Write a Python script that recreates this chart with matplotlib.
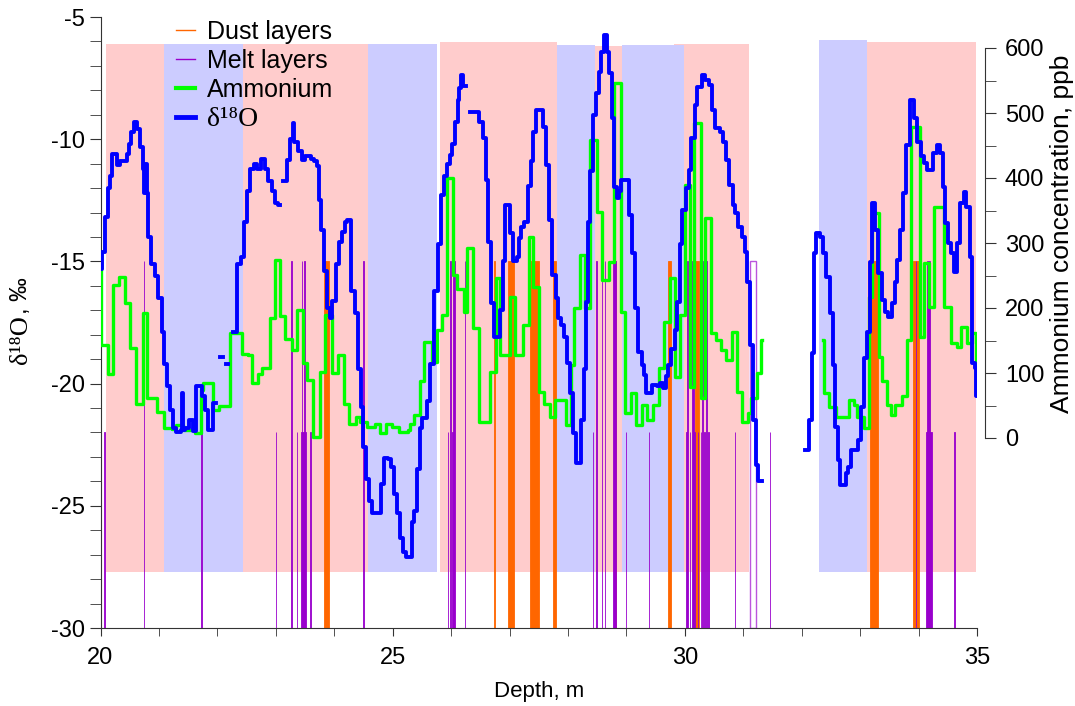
import numpy as np
import matplotlib
matplotlib.use("Agg")
import matplotlib.pyplot as plt
from matplotlib.lines import Line2D

# ---------------- data ----------------
d18o_depth = [20.00, 20.03, 20.07, 20.12, 20.16, 20.20, 20.28, 20.34, 20.46, 20.49, 20.53, 20.57, 20.63, 20.68,
              20.73, 20.75, 20.77, 20.79, 20.81, 20.87, 20.93, 20.99, 21.05, 21.09, 21.13, 21.19, 21.24, 21.30,
              21.37, 21.39, 21.41, 21.45, 21.52, 21.58, 21.64, 21.73, 21.78, 21.84, 21.92, 21.97, 22.04, 22.09,
              22.14, 22.19, 22.27, 22.34, 22.41, 22.45, 22.50, 22.56, 22.62, 22.68, 22.74, 22.82, 22.87, 22.93,
              22.99, 23.03, 23.07, 23.12, 23.19, 23.245, 23.29, 23.32, 23.38, 23.44, 23.50, 23.60, 23.66, 23.70,
              23.74, 23.78, 23.82, 23.87, 23.92, 23.97, 24.03, 24.09, 24.13, 24.18, 24.22, 24.28, 24.35, 24.40,
              24.45, 24.50, 24.55, 24.60, 24.65, 24.80, 24.85, 24.92, 24.97, 25.02, 25.08, 25.12, 25.17, 25.22,
              25.33, 25.37, 25.41, 25.46, 25.51, 25.58, 25.64, 25.70, 25.77, 25.82, 25.87, 25.93, 25.98, 26.02,
              26.07, 26.12, 26.14, 26.17, 26.21, 26.26, 26.32, 26.48, 26.54, 26.59, 26.64, 26.69, 26.73, 26.84,
              26.88, 26.92, 27.00, 27.06, 27.12, 27.16, 27.20, 27.25, 27.31, 27.37, 27.41, 27.46, 27.57, 27.63,
              27.68, 27.73, 27.79, 27.83, 27.88, 27.93, 27.98, 28.03, 28.08, 28.13, 28.22, 28.27, 28.31, 28.35,
              28.38, 28.43, 28.48, 28.53, 28.57, 28.62, 28.67, 28.71, 28.76, 28.79, 28.84, 28.88, 28.91, 29.04,
              29.10, 29.14, 29.20, 29.26, 29.30, 29.34, 29.43, 29.52, 29.57, 29.63, 29.67, 29.71, 29.77, 29.83,
              29.87, 29.91, 29.96, 30.02, 30.07, 30.11, 30.17, 30.21, 30.30, 30.35, 30.41, 30.46, 30.51, 30.60,
              30.66, 30.71, 30.76, 30.82, 30.86, 30.91, 30.97, 31.03, 31.07, 31.12, 31.17, 31.21, 31.25, 31.32,
              32.06, 32.12, 32.17, 32.21, 32.25, 32.32, 32.37, 32.42, 32.48, 32.53, 32.57, 32.62, 32.66, 32.75,
              32.80, 32.85, 32.97, 33.01, 33.06, 33.11, 33.17, 33.21, 33.26, 33.31, 33.37, 33.42, 33.48, 33.54,
              33.59, 33.63, 33.69, 33.74, 33.79, 33.85, 33.92, 33.97, 34.05, 34.09, 34.14, 34.25, 34.31, 34.36,
              34.41, 34.46, 34.51, 34.55, 34.60, 34.65, 34.71, 34.78, 34.82, 34.88, 34.92, 34.97, 34.985, 35.00]
d18o = [-15.3, -14.6, -13.2, -12.0, -11.5, -10.6, -11.05, -10.9, -10.6, -10.2, -9.7, -9.3, -9.6, -10.3,
        -11.2, -12.2, -11.0, -12.2, -14.0, -15.1, -15.6, -16.5, -17.9, -19.2, -20.1, -21.1, -21.8, -22.0,
        -21.9, -20.4, -21.9, -21.8, -21.5, -21.95, -20.1, -20.5, -21.1, -21.9, -20.8, np.nan, -18.9, np.nan,
        -19.2, np.nan, -17.9, -15.1, -14.8, -13.4, -12.1, -11.2, -11.0, -11.2, -10.8, -11.2, -11.7, -12.1,
        -12.6, -12.7, np.nan, -11.7, -10.85, -10.0, -9.35, -10.1, -10.5, -10.85, -10.7, -10.8, -10.9, -11.1,
        -12.5, -13.7, -15.4, -16.9, -17.3, -16.6, -15.1, -14.2, -13.8, -13.4, -13.3, -16.2, -17.1, -19.4,
        -20.95, -22.6, -23.9, -24.8, -25.3, -24.1, -23.05, -23.1, -23.4, -24.5, -25.3, -26.3, -26.9, -27.1,
        -25.65, -25.2, -23.5, -21.8, -21.4, -20.7, -19.2, -16.2, -14.3, -12.3, -11.5, -11.0, -10.65, -10.2,
        -9.3, -8.4, -7.9, -7.37, -7.82, np.nan, -8.87, -9.28, -9.96, -11.67, -14.2, -16.7, -18.08, -16.99,
        -15.0, -12.7, -13.85, -15.0, -14.8, -14.05, -13.6, -13.4, -11.9, -10.9, -9.7, -8.8, -9.49, -11.06,
        -13.3, -15.56, -16.5, -17.3, -17.6, -18.08, -19.17, -20.4, -22.03, -23.26, -21.5, -19.4, -16.65, -13.37,
        -11.3, -9.0, -8.1, -7.24, -6.42, -5.74, -6.42, -7.3, -9.15, -11.94, -12.42, -12.1, -11.67, -13.1,
        -14.67, -16.92, -18.69, -19.24, -19.65, -20.4, -20.06, -20.1, -19.99, -20.2, -19.7, -19.24, -18.6, -17.8,
        -16.65, -14.3, -12.9, -12.0, -11.26, -9.96, -8.6, -7.85, -7.37, -7.58, -7.78, -8.8, -9.55, -9.69,
        -10.1, -10.85, -11.87, -12.69, -13.03, -13.58, -13.99, -14.6, -15.83, -18.42, -21.49, -23.33, -24.0, np.nan,
        -22.72, -21.49, -18.76, -14.67, -13.85, -14.0, -14.67, -15.63, -17.1, -19.24, -21.76, -23.12, -24.15, -23.67,
        -23.4, -22.72, -22.3, -20.94, -18.96, -17.87, -15.01, -12.62, -13.7, -15.49, -16.58, -17.06, -17.26, -16.71,
        -15.83, -14.94, -13.7, -12.2, -10.24, -8.4, -9.15, -10.1, -10.7, -10.99, -11.26, -10.58, -10.24, -10.58,
        -11.94, -13.44, -14.26, -14.67, -15.42, -14.26, -12.62, -12.15, -12.76, -14.8, -19.17, -19.37, -20.5, -20.5]

amm_depth = [20.00, 20.01, 20.12, 20.22, 20.32, 20.42, 20.50, 20.60, 20.72, 20.79, 20.96, 21.08, 21.22, 21.30,
             21.42, 21.62, 21.72, 21.76, 21.93, 22.02, 22.22, 22.42, 22.52, 22.59, 22.70, 22.76, 22.90, 22.99,
             23.07, 23.16, 23.27, 23.36, 23.46, 23.53, 23.645, 23.76, 23.84, 23.96, 24.07, 24.16, 24.26, 24.38,
             24.44, 24.56, 24.70, 24.79, 24.89, 24.99, 25.10, 25.27, 25.30, 25.36, 25.46, 25.54, 25.67, 25.76,
             25.84, 25.93, 26.03, 26.10, 26.22, 26.28, 26.38, 26.47, 26.67, 26.76, 26.84, 27.01, 27.10, 27.23,
             27.33, 27.41, 27.51, 27.59, 27.69, 27.78, 27.97, 28.05, 28.11, 28.21, 28.30, 28.38, 28.49, 28.58,
             28.70, 28.79, 28.90, 28.98, 29.08, 29.17, 29.27, 29.35, 29.45, 29.55, 29.64, 29.74, 29.84, 29.92,
             30.01, 30.08, 30.16, 30.27, 30.35, 30.45, 30.54, 30.62, 30.71, 30.81, 30.89, 30.98, 31.08, 31.14,
             31.24, 31.30, 31.32, 32.37, 32.38, 32.46, 32.59, 32.81, 32.89, 32.95, 33.06, 33.15, 33.21, 33.32,
             33.38, 33.46, 33.52, 33.60, 33.72, 33.80, 33.87, 34.03, 34.10, 34.18, 34.26, 34.43, 34.55, 34.66,
             34.72, 34.83, 34.92, 34.99, 35.00]
amm = [282, 143, 99, 235, 248, 207, 138, 53, 192, 61, 40, 15, 14, 20,
       12, 7, 74, 84, 43, 50, 161, 130, 128, 84, 99, 108, 184, 274,
       187, 153, 135, 197, 115, 89, 2, 102, 189, 100, 128, 53, 22, 33,
       25, 17, 22, 7, 22, 17, 9, 12, 22, 35, 87, 148, 117, 166,
       189, 400, 251, 230, 194, 292, 169, 25, 102, 246, 128, 217, 128, 174,
       310, 233, 71, 53, 33, 58, 20, 112, 200, 282, 200, 458, 348, 243,
       271, 546, 194, 38, 69, 20, 51, 28, 51, 107, 179, 246, 94, 189,
       389, 79, 484, 61, 338, 161, 151, 135, 120, 163, 71, 25, 38, 61,
       100, 151, np.nan, 151, 69, 48, 33, 58, 51, 33, 15, 217, 346, 125,
       87, 51, 35, 51, 64, 151, 479, 156, 269, 202, 355, 202, 146, 140,
       171, 146, 161, 94, 94]

# background zones: (start, end, top)
warm_zones = [(20.09, 21.09, -6.10), (22.44, 24.58, -6.10), (25.81, 27.81, -6.02),
              (28.47, 28.92, -6.19), (29.82, 31.09, -6.10), (33.125, 34.99, -6.02)]
cold_zones = [(21.09, 22.44, -6.10), (24.58, 25.76, -6.10), (27.81, 28.47, -6.15),
              (28.92, 29.98, -6.15), (32.30, 33.125, -5.94)]
zone_bottom = -27.7

# dust layers: (depth, width, top)
dust_depth = [23.83, 26.74, 26.98, 27.35, 27.74, 28.80, 29.72, 30.18, 33.17, 33.90]
dust_width = [0.08, 0.008, 0.09, 0.16, 0.06, 0.03, 0.04, 0.06, 0.14, 0.10]
dust_top = [-15, -15, -15, -15, -15, -15, -15, -15, -15, -15]

# melt layers
melt_depth = [20.06, 20.74, 21.72, 23.00, 23.26, 23.36, 23.43, 23.44, 23.48, 23.59, 24.50,
              25.94, 25.98, 26.02, 26.04, 26.23, 28.42, 28.48, 28.58, 28.63, 28.77, 28.99, 29.38,
              30.02, 30.04, 30.08, 30.13, 30.16, 30.22, 30.27, 30.30, 30.33, 30.37, 30.40,
              30.85, 31.45, 33.95, 34.13, 34.15, 34.61]
melt_width = [0.01, 0.01, 0.01, 0.01, 0.015, 0.01, 0.08, 0.012, 0.012, 0.01, 0.008,
              0.01, 0.02, 0.01, 0.03, 0.01, 0.008, 0.01, 0.008, 0.008, 0.06, 0.008, 0.008,
              0.01, 0.02, 0.01, 0.02, 0.01, 0.01, 0.01, 0.015, 0.01, 0.015, 0.01,
              0.008, 0.01, 0.01, 0.10, 0.05, 0.015]
melt_top = [-22, -15, -22, -22, -15, -22, -22, -15, -15, -22, -15,
            -22, -15, -22, -15, -15, -22, -15, -15, -15, -15, -22, -22,
            -22, -15, -22, -15, -22, -22, -22, -15, -22, -15, -22,
            -22, -22, -15, -22, -15, -22]
# hollow melt layer outline
hollow_depth = [31.12]
hollow_width = [0.10]
hollow_top = [-15]

# ---------------- figure ----------------
plt.rcParams['font.family'] = ['Liberation Sans', 'DejaVu Sans']
W, H = 1075, 706
fig = plt.figure(figsize=(W / 100, H / 100), dpi=100)
ax = fig.add_axes([100.5 / W, 1 - 628 / H, (977 - 100.5) / W, (628 - 17) / H])
ax2 = ax.twinx()

PINK = '#FFCCCC'
LBLUE = '#CCCCFF'
ORANGE = '#FF6600'
PURPLE = '#9900CC'
GREEN = '#00FF00'
BLUE = '#0000FF'

for s, e, t in warm_zones:
    ax.bar(s, t - zone_bottom, width=e - s, bottom=zone_bottom, align='edge', color=PINK, lw=0, zorder=1)
for s, e, t in cold_zones:
    ax.bar(s, t - zone_bottom, width=e - s, bottom=zone_bottom, align='edge', color=LBLUE, lw=0, zorder=1.1)

ax.bar(dust_depth, [t + 30 for t in dust_top], width=dust_width, bottom=-30, align='edge',
       color=ORANGE, edgecolor=ORANGE, lw=0.6, zorder=2)
ax.bar(melt_depth, [t + 30 for t in melt_top], width=melt_width, bottom=-30, align='edge',
       color=PURPLE, edgecolor=PURPLE, lw=0.6, zorder=2.1)
ax.bar(hollow_depth, [t + 30 for t in hollow_top], width=hollow_width, bottom=-30, align='edge',
       facecolor='none', edgecolor='#BB55DD', lw=1.0, zorder=2.1)

ax.plot(amm_depth, amm, drawstyle='steps-post', color=GREEN, lw=2.4, zorder=3, transform=ax2.transData)
ax.plot(d18o_depth, d18o, drawstyle='steps-post', color=BLUE, lw=2.8, zorder=4)

ax.set_xlim(20, 35)
ax.set_ylim(-30, -5)
ax2.set_ylim((438 - 628) / 0.65, (438 - 17) / 0.65)

spine_col = '#333333'
for sp in ['top', 'right']:
    ax.spines[sp].set_visible(False)
for sp in ['top', 'left', 'bottom']:
    ax2.spines[sp].set_visible(False)
ax.spines['left'].set_color(spine_col)
ax.spines['bottom'].set_color(spine_col)
ax2.spines['right'].set_color(spine_col)
ax2.spines['right'].set_position(('outward', 6))
ax2.spines['right'].set_bounds(0, 600)

ax.set_xticks([20, 25, 30, 35])
ax.set_xticks(np.arange(20, 35.5, 1), minor=True)
ax.set_yticks([-30, -25, -20, -15, -10, -5])
ax.set_yticklabels(['-30', '-25', '-20', '-15', '-10', '-5'])
ax.set_yticks(np.arange(-30, -4.5, 1), minor=True)
ax2.set_yticks([0, 100, 200, 300, 400, 500, 600])
ax2.set_yticks(np.arange(0, 601, 50), minor=True)

ax.tick_params(axis='both', which='both', direction='out', color=spine_col, labelsize=17)
ax.tick_params(axis='y', which='both', length=8, pad=3)
ax.tick_params(axis='x', which='both', length=6, pad=8)
ax2.tick_params(axis='y', which='both', direction='out', length=8, color=spine_col, labelsize=17, pad=6)

ax.set_xlabel('Depth, m', fontsize=16, labelpad=8)

# left label: serif delta-18-O followed by sans ", ‰"
t1 = fig.text(21 / W, 1 - 364 / H, 'δ¹⁸O', rotation=90, ha='center', va='bottom',
              family=['Liberation Serif', 'DejaVu Serif'], fontsize=19)
fig.canvas.draw()
bb = t1.get_window_extent()
fig.text(21 / W, (bb.y1 + 1) / H, ', ‰', rotation=90, ha='center', va='bottom', fontsize=17)

# right label
fig.text(1062 / W, 1 - 234 / H, 'Ammonium concentration, ppb', rotation=90, ha='center', va='center',
         fontsize=19)

handles = [Line2D([], [], color=ORANGE, lw=1),
           Line2D([], [], color=PURPLE, lw=1),
           Line2D([], [], color=GREEN, lw=3),
           Line2D([], [], color=BLUE, lw=3.5)]
labels = ['Dust layers', 'Melt layers', 'Ammonium', 'δ¹⁸O']
leg = fig.legend(handles, labels, loc='upper left', bbox_to_anchor=(176 / W, 1 - 20 / H),
                 frameon=False, fontsize=18, handlelength=0.75, handletextpad=0.5,
                 labelspacing=0.2, borderpad=0, borderaxespad=0)
leg.get_texts()[3].set_family(['Liberation Serif', 'DejaVu Serif'])
leg.get_texts()[3].set_fontsize(20)

fig.savefig('out.png', dpi=100)
